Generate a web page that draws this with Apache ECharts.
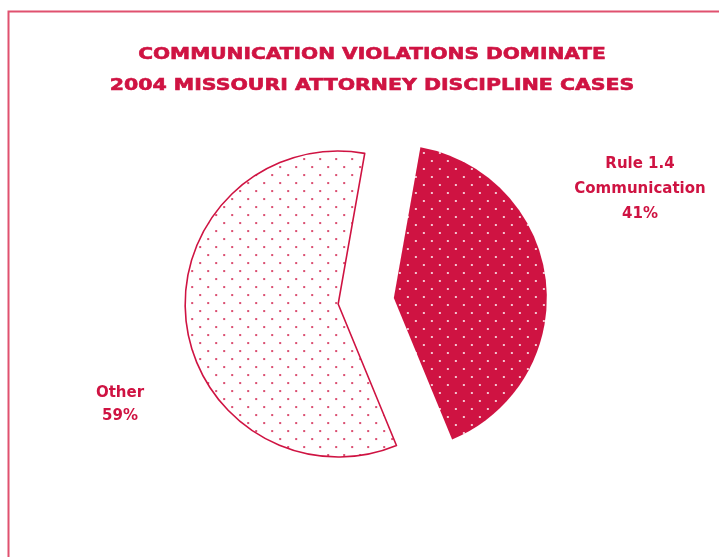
<!DOCTYPE html>
<html>
<head>
<meta charset="utf-8">
<script src="https://cdn.jsdelivr.net/npm/echarts@6/dist/echarts.min.js"></script>
<style>
html,body{margin:0;padding:0;background:#fff;}
#chart{width:719px;height:557px;}
</style>
</head>
<body>
<div id="chart"></div>
<script>
// Data
var titleLines = ['COMMUNICATION VIOLATIONS DOMINATE', '2004 MISSOURI ATTORNEY DISCIPLINE CASES'];
var categories = ['Rule 1.4\nCommunication', 'Other'];
var values = [41, 59];

var RED = '#cf1342';

function makePattern(bg, dot, r) {
  var c = document.createElement('canvas');
  c.width = 16; c.height = 16;
  var ctx = c.getContext('2d');
  ctx.fillStyle = bg;
  ctx.fillRect(0, 0, 16, 16);
  ctx.fillStyle = dot;
  [[4, 4], [12, 12]].forEach(function (p) {
    ctx.beginPath();
    ctx.arc(p[0], p[1], r, 0, Math.PI * 2);
    ctx.fill();
  });
  return c;
}

var darkPattern = { image: makePattern(RED, '#ffffff', 1.0), repeat: 'repeat' };
var lightPattern = { image: makePattern('#ffffff', RED, 1.0), repeat: 'repeat' };

var itemStyles = [
  { color: darkPattern, borderWidth: 0 },
  { color: lightPattern, borderColor: RED, borderWidth: 1.6 }
];

var total = values.reduce(function (a, b) { return a + b; }, 0);
var labelPos = [[640, 189], [120, 405]];
var labelLH = [25, 23];

var chart = echarts.init(document.getElementById('chart'), null, { renderer: 'canvas' });

var seriesData = categories.map(function (name, i) {
  return {
    name: name,
    value: values[i],
    selected: true,
    itemStyle: itemStyles[i],
    select: { itemStyle: itemStyles[i] },
    emphasis: { itemStyle: itemStyles[i] }
  };
});

var titleFont = 'bold 16px "DejaVu Sans"';

var graphics = [
  {
    type: 'rect',
    shape: { x: 8.5, y: 11.5, width: 800, height: 700 },
    style: { fill: 'none', stroke: '#e0516f', lineWidth: 2 },
    silent: true
  },
  {
    type: 'text',
    x: 372, y: 55, scaleX: 1.26,
    style: { text: titleLines[0], font: titleFont, fill: RED, stroke: RED, lineWidth: 0.6, textAlign: 'center', textVerticalAlign: 'middle' },
    silent: true
  },
  {
    type: 'text',
    x: 372, y: 86, scaleX: 1.28,
    style: { text: titleLines[1], font: titleFont, fill: RED, stroke: RED, lineWidth: 0.6, textAlign: 'center', textVerticalAlign: 'middle' },
    silent: true
  }
];

categories.forEach(function (name, i) {
  graphics.push({
    type: 'text',
    x: labelPos[i][0], y: labelPos[i][1],
    style: {
      text: name + '\n' + Math.round(values[i] / total * 100) + '%',
      font: 'bold 15px "DejaVu Sans"',
      lineHeight: labelLH[i],
      fill: RED,
      textAlign: 'center',
      textVerticalAlign: 'middle'
    },
    silent: true
  });
});

chart.setOption({
  animation: false,
  backgroundColor: '#ffffff',
  graphic: graphics,
  series: [{
    type: 'pie',
    center: [366, 301],
    radius: 153,
    startAngle: 80,
    clockwise: true,
    selectedMode: 'multiple',
    selectedOffset: 28,
    label: { show: false },
    labelLine: { show: false },
    data: seriesData
  }]
});
</script>
</body>
</html>
